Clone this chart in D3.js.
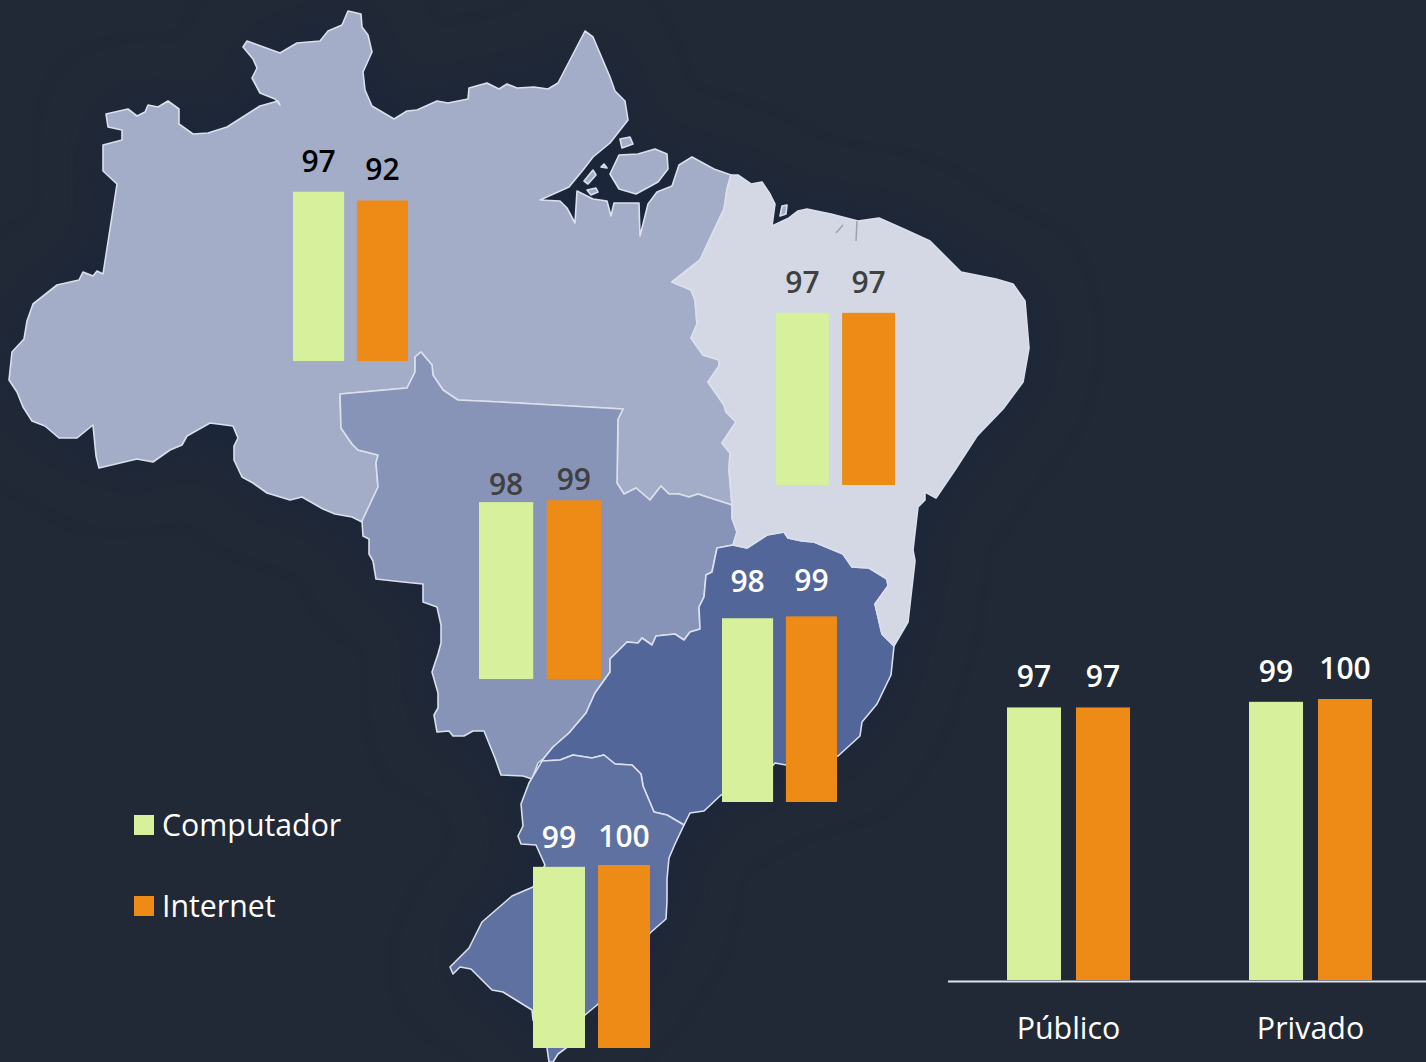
<!DOCTYPE html>
<html>
<head>
<meta charset="utf-8">
<script src="https://cdn.jsdelivr.net/npm/d3@7"></script>
<style>
	html, body { margin: 0; padding: 0; background: #222936; }
	svg { display: block; font-family: "Open Sans", sans-serif; }
	.domain { stroke: #dfe3ea; stroke-width: 2; }
</style>
</head>
<body>
<svg width="1426" height="1062"></svg>
<script>

	// Computador e Internet por região e por rede
	var seriesNames = ["Computador", "Internet"];
	var regionNames = ["Norte", "Nordeste", "Centro-Oeste", "Sudeste", "Sul"];
	var computadorRegiao = [97, 97, 98, 98, 99];
	var internetRegiao = [92, 97, 99, 99, 100];

	var redeNames = ["Público", "Privado"];
	var computadorRede = [97, 99];
	var internetRede = [97, 100];

	// contornos do mapa, em pixels da imagem
	var norteShape = [[348,11],[361,14],[362,27],[368,35],[372,52],[363,72],[365,90],[372,106],[394,119],[407,111],[417,110],[437,101],[448,103],[468,99],[469,88],[487,83],[499,89],[507,84],[517,88],[534,87],[548,89],[558,83],[585,31],[593,37],[610,77],[615,91],[625,101],[628,120],[610,143],[593,157],[583,170],[569,187],[540,200],[560,201],[567,208],[575,223],[577,191],[593,199],[607,201],[611,216],[614,203],[639,203],[640,236],[648,204],[657,192],[672,186],[679,165],[692,157],[714,169],[731,175],[727,189],[724,209],[714,230],[700,260],[672,282],[691,290],[695,300],[697,324],[691,338],[703,355],[719,360],[719,366],[708,382],[724,405],[726,412],[736,422],[722,443],[730,453],[729,470],[732,505],[707,497],[698,494],[689,497],[679,494],[669,494],[661,486],[650,500],[636,488],[624,494],[617,483],[618,419],[623,409],[500,402],[458,400],[443,390],[433,375],[432,365],[421,352],[415,357],[415,372],[407,388],[340,394],[341,428],[352,444],[358,450],[378,455],[376,463],[378,487],[362,522],[352,517],[335,514],[323,509],[302,497],[290,500],[267,493],[253,483],[242,477],[234,460],[234,446],[238,438],[233,426],[210,423],[187,436],[182,445],[170,450],[153,462],[137,459],[99,468],[96,456],[93,425],[77,438],[59,438],[45,426],[32,421],[23,407],[17,392],[9,380],[12,352],[24,339],[27,321],[33,304],[57,285],[79,280],[83,272],[93,276],[97,271],[103,274],[117,184],[103,171],[103,145],[122,140],[122,130],[108,127],[106,114],[128,109],[137,116],[145,112],[148,105],[158,107],[168,101],[179,109],[179,124],[193,134],[208,133],[227,127],[260,106],[278,101],[280,105],[275,99],[260,93],[252,78],[257,68],[253,59],[243,47],[247,41],[280,53],[297,43],[320,41],[328,31],[342,25]];
	var ilhasShape = [
		[[619,155],[638,154],[655,149],[667,154],[668,169],[658,182],[636,194],[619,189],[610,174]],
		[[620,139],[630,137],[633,144],[622,148]],
		[[584,181],[593,170],[596,175],[588,184]],
		[[601,167],[604,164],[607,168]],
		[[587,190],[596,188],[598,192],[591,195]]
	];
	var centroShape = [[340,394],[407,388],[415,372],[415,357],[421,352],[432,365],[433,375],[443,390],[458,400],[500,402],[623,409],[618,419],[617,483],[624,494],[636,488],[650,500],[661,486],[669,494],[679,494],[689,497],[698,494],[707,497],[732,505],[732,518],[737,532],[733,545],[717,548],[712,572],[706,575],[704,597],[699,607],[700,629],[690,632],[684,640],[675,634],[656,636],[652,645],[642,638],[638,643],[627,642],[610,659],[610,672],[595,693],[586,713],[569,733],[553,747],[544,758],[538,763],[532,779],[523,776],[501,775],[495,758],[484,731],[473,731],[464,736],[453,736],[449,731],[437,732],[434,715],[438,708],[438,693],[432,672],[438,654],[441,643],[441,625],[437,607],[423,602],[423,584],[403,582],[376,579],[373,561],[369,554],[369,539],[363,536],[362,521],[378,487],[376,463],[378,455],[358,450],[352,444],[341,428]];
	var nordesteShape = [[731,175],[738,175],[751,184],[762,182],[770,194],[775,204],[772,226],[789,218],[798,211],[807,209],[831,214],[858,221],[879,218],[906,230],[930,241],[961,272],[996,279],[1013,284],[1025,301],[1029,348],[1023,382],[1003,409],[977,436],[955,470],[936,498],[925,492],[925,500],[918,507],[913,550],[915,561],[908,622],[894,646],[882,634],[875,604],[888,586],[887,579],[869,568],[852,567],[843,554],[814,542],[802,541],[788,538],[784,532],[767,535],[747,548],[733,545],[737,532],[732,518],[732,505],[729,470],[730,453],[722,443],[736,422],[726,412],[724,405],[708,382],[719,366],[719,360],[703,355],[691,338],[697,324],[695,300],[691,290],[672,282],[700,260],[714,230],[724,209],[727,189]];
	var nordesteIlha = [[780,216],[782,206],[787,205],[786,214]];
	var nordesteRiscos = [[[857,221],[856,241]], [[843,225],[836,233]]];
	var sudesteShape = [[544,758],[553,747],[569,733],[586,713],[595,693],[610,672],[610,659],[627,642],[638,643],[642,638],[652,645],[656,636],[675,634],[684,640],[690,632],[700,629],[699,607],[704,597],[706,575],[712,572],[717,548],[733,545],[747,548],[767,535],[784,532],[788,538],[802,541],[814,542],[843,554],[852,567],[869,568],[887,579],[888,586],[875,604],[882,634],[894,646],[891,675],[877,704],[862,722],[860,736],[838,756],[786,765],[775,763],[760,780],[721,795],[704,811],[690,813],[684,825],[667,815],[654,812],[643,786],[641,774],[632,765],[615,764],[604,755],[592,758],[573,755],[560,760],[542,761]];
	var sulShape = [[542,761],[560,760],[573,755],[592,758],[604,755],[615,764],[632,765],[641,774],[643,786],[654,812],[667,815],[684,825],[675,844],[669,858],[667,879],[667,901],[666,919],[650,933],[630,970],[597,1005],[585,1015],[570,1045],[558,1054],[553,1062],[549,1062],[547,1048],[533,1020],[532,1010],[503,992],[492,990],[471,969],[460,967],[453,974],[450,967],[469,948],[482,922],[512,896],[533,887],[545,865],[536,845],[521,844],[518,836],[523,826],[521,804],[529,783]];

	var svg = d3.select("svg");

	var defs = svg.append("defs");
	var glow = defs.append("filter").attr("id", "glow")
		.attr("color-interpolation-filters", "sRGB")
		.attr("x", "-30%").attr("y", "-30%").attr("width", "160%").attr("height", "160%");
	glow.append("feDropShadow")
		.attr("dx", 0).attr("dy", 0)
		.attr("stdDeviation", 32)
		.attr("flood-color", "#15233f")
		.attr("flood-opacity", 0.7);

	var color = d3.scaleOrdinal().domain(seriesNames).range(["#d6f09c", "#ee8b17"]);

	// mapa
	var line = d3.line().curve(d3.curveLinearClosed);

	var mapa = [
		{ shape: norteShape, fill: "#a3adc7" },
		{ shape: centroShape, fill: "#8894b7" },
		{ shape: sudesteShape, fill: "#52669a" },
		{ shape: sulShape, fill: "#5f71a1" },
		{ shape: nordesteShape, fill: "#d3d8e4" },
		{ shape: nordesteIlha, fill: "#a3adc7" }
	].concat(ilhasShape.map(function(s){ return { shape: s, fill: "#a3adc7" }; }));

	var mapaG = svg.append("g").attr("filter", "url(#glow)");

	mapaG.selectAll("path")
		.data(mapa)
		.enter().append("path")
			.attr("d", function(d) { return line(d.shape); })
			.attr("fill", function(d) { return d.fill; })
			.attr("stroke", "#dbe0ec")
			.attr("stroke-width", 1.6)
			.attr("stroke-linejoin", "round");

	svg.append("g").selectAll("path")
		.data(nordesteRiscos)
		.enter().append("path")
			.attr("d", d3.line())
			.attr("fill", "none")
			.attr("stroke", "#9aa1b2")
			.attr("stroke-width", 1.5);

	// barras de cada região, cada grupo com a sua própria escala
	var regionLayout = [
		{ left: 293, right: 408, base: 361, full: 174.5, gaps: [20, 20], text: "#000000" },
		{ left: 776, right: 895, base: 485, full: 177.5, gaps: [20, 20], text: "#404040" },
		{ left: 479, right: 601, base: 679, full: 180.5, gaps: [7, 10], text: "#404040" },
		{ left: 722, right: 837, base: 802, full: 187.5, gaps: [26, 25], text: "#ffffff" },
		{ left: 533, right: 650, base: 1048, full: 183, gaps: [19, 18], text: "#ffffff" }
	];

	regionNames.forEach(function(region, i){
		var p = regionLayout[i];
		var values = [computadorRegiao[i], internetRegiao[i]];
		var x = d3.scaleBand().domain(seriesNames).range([p.left, p.right]).paddingInner(0.2);
		var y = d3.scaleLinear().domain([0, 100]).range([p.base, p.base - p.full]);
		var g = svg.append("g").attr("class", "region");
		drawBars(g, x, y, values, p.gaps, p.text);
	});

	// grupo de barras da rede
	var x0 = d3.scaleBand().domain(redeNames).range([947.5, 1431.5]);
	var yRede = d3.scaleLinear().domain([0, 100]).range([980, 699]);

	var rede = svg.append("g").attr("class", "rede");

	redeNames.forEach(function(name, i){
		var mid = x0(name) + x0.bandwidth() / 2;
		var x1 = d3.scaleBand().domain(seriesNames).range([mid - 61.5, mid + 61.5]).paddingInner(0.217);
		drawBars(rede.append("g"), x1, yRede, [computadorRede[i], internetRede[i]], [20, 20], "#ffffff");
	});

	var axis = rede.append("g")
		.attr("transform", "translate(0,981)")
		.call(d3.axisBottom(x0).tickSize(0).tickPadding(36));
	axis.selectAll("text")
		.attr("fill", "#ffffff")
		.attr("font-size", 30.4)
		.attr("font-weight", 400)
		.attr("font-family", "'Open Sans', sans-serif");

	// legenda
	var legendY = d3.scalePoint().domain(seriesNames).range([825, 906]);
	var legend = svg.append("g").selectAll("g")
		.data(seriesNames)
		.enter().append("g")
			.attr("transform", function(d) { return "translate(134," + legendY(d) + ")"; });
	legend.append("rect")
		.attr("y", -10)
		.attr("width", 20)
		.attr("height", 20)
		.attr("fill", function(d) { return color(d); });
	legend.append("text")
		.attr("x", 28)
		.attr("y", 11)
		.attr("fill", "#ffffff")
		.attr("font-size", 30.3)
		.attr("font-weight", 400)
		.text(function(d) { return d; });

	function drawBars(g, x, y, values, gaps, textColor){
		var rows = seriesNames.map(function(s, i){ return { name: s, value: values[i], gap: gaps[i] }; });
		g.selectAll("rect")
			.data(rows)
			.enter().append("rect")
				.attr("x", function(d) { return x(d.name); })
				.attr("y", function(d) { return y(d.value); })
				.attr("width", x.bandwidth())
				.attr("height", function(d) { return y(0) - y(d.value); })
				.attr("fill", function(d) { return color(d.name); });
		g.selectAll("text")
			.data(rows)
			.enter().append("text")
				.attr("x", function(d) { return x(d.name) + x.bandwidth() / 2; })
				.attr("y", function(d) { return y(d.value) - d.gap; })
				.attr("text-anchor", "middle")
				.attr("fill", textColor)
				.attr("font-size", 30)
				.attr("font-weight", 600)
				.text(function(d) { return d.value; });
	}

</script>
</body>
</html>
